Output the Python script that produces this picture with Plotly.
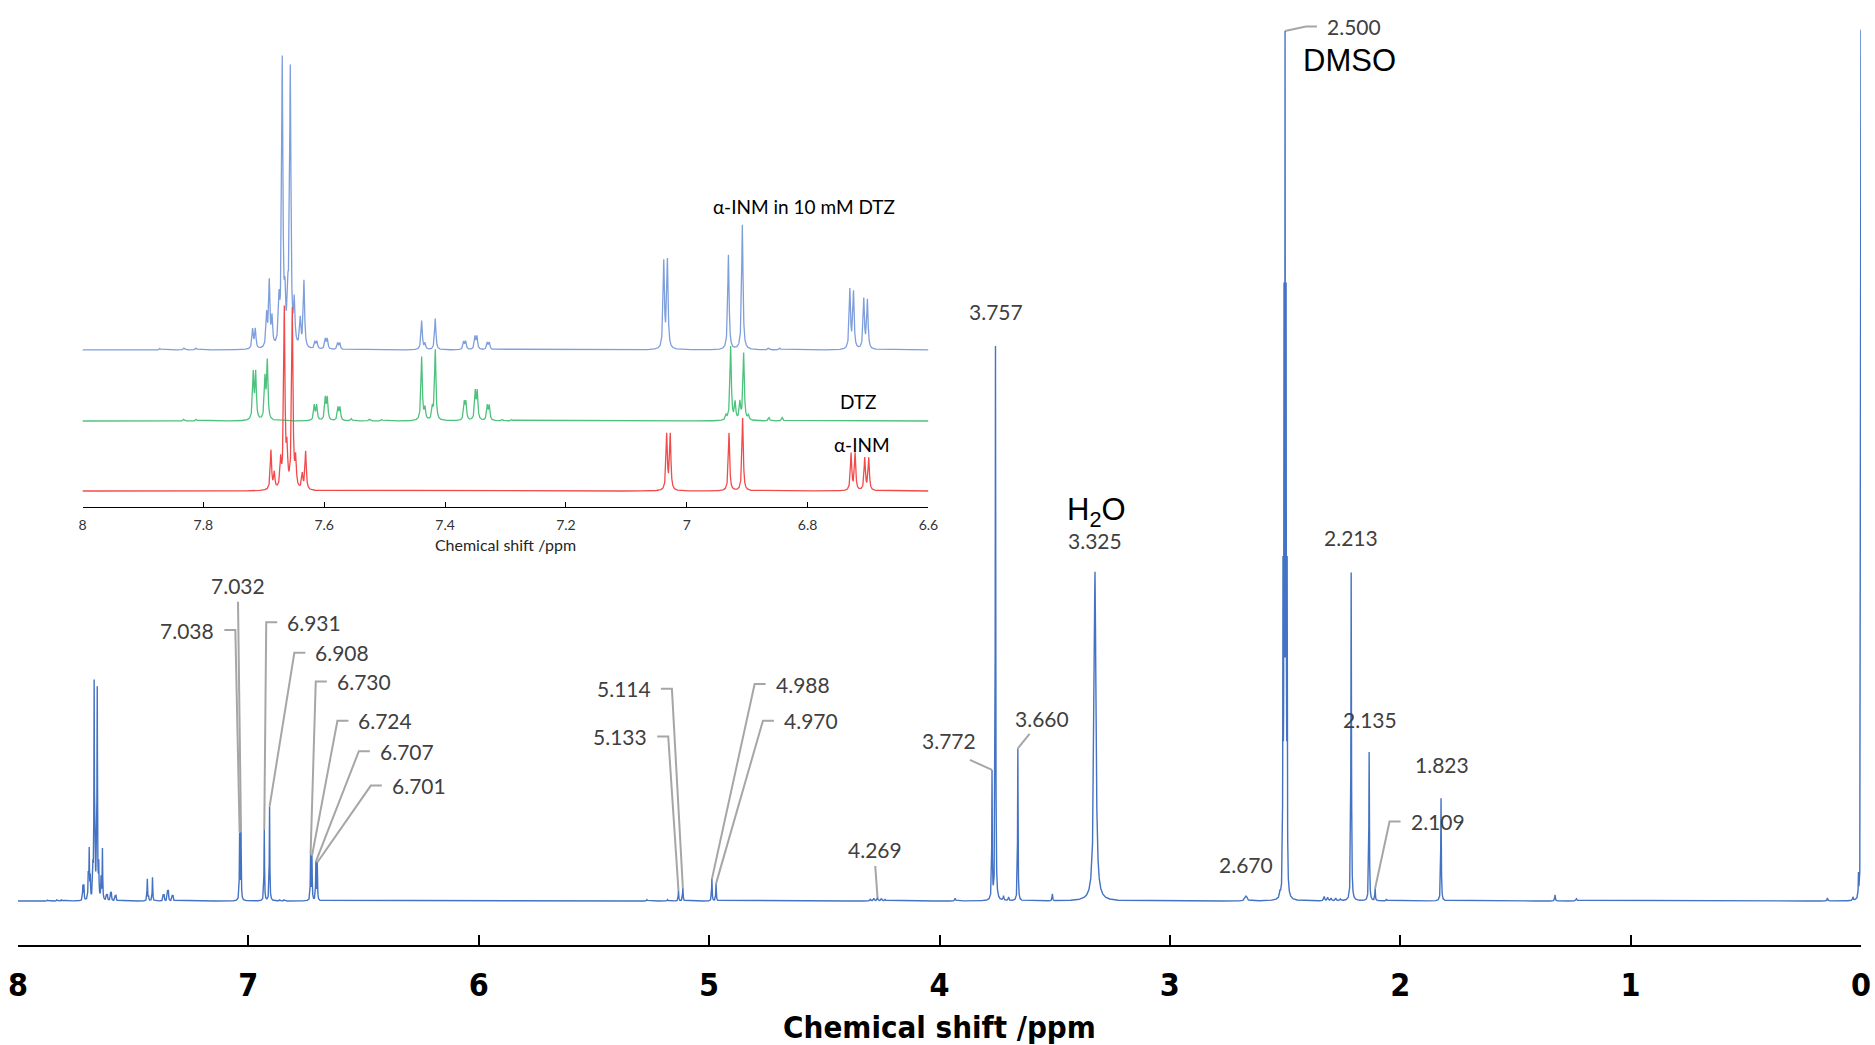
import numpy as np
import plotly.graph_objects as go

# ---------------------------------------------------------------------------
# 1H NMR peak tables (chemical shift in ppm, peak height relative to TMS = 1)
# ---------------------------------------------------------------------------

# alpha-INM in 10 mM DTZ - aromatic region (main spectrum and top inset trace)
mix_aro_ppm = [7.872, 7.832, 7.812,
               7.7184, 7.7140, 7.6952, 7.6909, 7.6864, 7.6748, 7.6694, 7.6650,
               7.6600, 7.6561, 7.6495, 7.6396, 7.6335,
               7.6153, 7.6120, 7.5982, 7.5949, 7.5777, 7.5744,
               7.4387, 7.4332, 7.4162, 7.3692, 7.3659, 7.3505, 7.3472, 7.3301, 7.3268,
               7.038, 7.032, 6.931, 6.908, 6.865, 6.846,
               6.730, 6.724, 6.707, 6.701]
mix_aro_h = [0.0012, 0.0015, 0.0015,
             0.017, 0.017, 0.028, 0.056, 0.024, 0.036, 0.246, 0.035,
             0.035, 0.238, 0.036, 0.024, 0.058,
             0.0062, 0.0062, 0.0088, 0.0088, 0.0055, 0.0055,
             0.025, 0.005, 0.027, 0.0068, 0.0068, 0.011, 0.011, 0.006, 0.006,
             0.075, 0.076, 0.082, 0.108, 0.0015, 0.0015,
             0.051, 0.049, 0.043, 0.042]

# alpha-INM in 10 mM DTZ - aliphatic region, solvent and reference
mix_ali_ppm = [5.270, 5.180, 5.133, 5.114, 4.988, 4.970,
               4.300, 4.285, 4.269, 4.252, 4.236, 3.932,
               3.772, 3.757, 3.722, 3.700, 3.660, 3.510, 3.325,
               2.675, 2.670, 2.665, 2.522, 2.509, 2.5045, 2.500, 2.4955, 2.491,
               2.330, 2.315, 2.300, 2.280, 2.260,
               2.213, 2.135, 2.109, 2.060, 1.823, 1.328, 1.235,
               0.146, 0.035, 0.011, 0.000]
mix_ali_h = [0.0015, 0.0015, 0.0115, 0.0152, 0.0250, 0.0198,
             0.0018, 0.0028, 0.0035, 0.0028, 0.0018, 0.0030,
             0.146, 0.636, 0.005, 0.004, 0.175, 0.008, 0.378,
             0.003, 0.004, 0.003, 0.006, 0.35, 0.64, 0.93, 0.64, 0.35,
             0.005, 0.004, 0.003, 0.003, 0.002,
             0.377, 0.171, 0.014, 0.002, 0.118, 0.007, 0.0025,
             0.0035, 0.004, 0.025, 1.0]
mix_ali_w = [0.004, 0.004, 0.0028, 0.0028, 0.0028, 0.0028,
             0.005, 0.005, 0.005, 0.005, 0.005, 0.004,
             0.0025, 0.0025, 0.004, 0.004, 0.0025, 0.003, 0.010,
             0.006, 0.006, 0.006, 0.004, 0.002, 0.002, 0.002, 0.002, 0.002,
             0.005, 0.005, 0.005, 0.005, 0.005,
             0.0028, 0.0028, 0.0028, 0.004, 0.0028, 0.003, 0.006,
             0.003, 0.003, 0.002, 0.002]

# DTZ alone - aromatic region
dtz_ppm = [7.8325, 7.8117, 7.7174, 7.7134, 7.6980, 7.6942,
           7.6164, 7.6125, 7.5982, 7.5949, 7.5772, 7.5739, 7.5550, 7.5250, 7.5050,
           7.4387, 7.4332, 7.4210, 7.4162, 7.3682, 7.3654, 7.3500, 7.3467,
           7.3301, 7.3268, 7.3050, 7.2900,
           6.935, 6.9273, 6.9200, 6.9120, 6.9058, 6.898, 6.864, 6.842]
dtz_h = [0.0015, 0.0015, 0.040, 0.040, 0.035, 0.050,
         0.013, 0.013, 0.019, 0.019, 0.011, 0.011, 0.002, 0.0015, 0.0012,
         0.055, 0.010, 0.010, 0.061, 0.015, 0.015, 0.024, 0.024,
         0.0125, 0.0125, 0.0015, 0.0012,
         0.004, 0.064, 0.015, 0.015, 0.058, 0.004, 0.003, 0.003]

# alpha-INM alone - aromatic region
inm_ppm = [7.6881, 7.6826, 7.6720, 7.6660, 7.6616, 7.6528, 7.6472, 7.6363, 7.6307,
           7.0332, 7.0273, 6.9300, 6.9075, 6.7280, 6.7214, 6.7054, 6.6988]
inm_h = [0.034, 0.014, 0.023, 0.155, 0.030, 0.155, 0.024, 0.013, 0.033,
         0.048, 0.048, 0.050, 0.063, 0.032, 0.032, 0.028, 0.028]

AROMATIC_FWHM = 0.0026

# Main-axis ticks and inset ticks
main_ticks = [8, 7, 6, 5, 4, 3, 2, 1, 0]
inset_ticks = [8.0, 7.8, 7.6, 7.4, 7.2, 7.0, 6.8, 6.6]
inset_ticktext = ["8", "7.8", "7.6", "7.4", "7.2", "7", "6.8", "6.6"]

# Assigned peaks: shift, connector style, label position (ppm, height), text anchor
peak_labels = [
    (7.038, "elbow", 7.139, 0.311, "right"),
    (7.032, "drop", 7.045, 0.362, "center"),
    (6.931, "elbow", 6.840, 0.320, "left"),
    (6.908, "elbow", 6.718, 0.285, "left"),
    (6.730, "elbow", 6.625, 0.252, "left"),
    (6.724, "elbow", 6.531, 0.207, "left"),
    (6.707, "elbow", 6.438, 0.172, "left"),
    (6.701, "elbow", 6.386, 0.1325, "left"),
    (5.133, "elbow", 5.260, 0.189, "right"),
    (5.114, "elbow", 5.244, 0.2436, "right"),
    (4.988, "elbow", 4.720, 0.249, "left"),
    (4.970, "elbow", 4.684, 0.207, "left"),
    (4.269, "drop", 4.279, 0.0586, "center"),
    (3.772, "slant", 3.957, 0.184, "center"),
    (3.757, "none", 3.755, 0.677, "center"),
    (3.660, "slant", 3.557, 0.209, "center"),
    (3.325, "none", 3.323, 0.414, "center"),
    (2.670, "none", 2.670, 0.042, "center"),
    (2.500, "elbow", 2.327, 1.004, "left"),
    (2.213, "none", 2.214, 0.417, "center"),
    (2.135, "none", 2.130, 0.208, "center"),
    (2.109, "elbow", 1.964, 0.0913, "left"),
    (1.823, "none", 1.819, 0.157, "center"),
]
# start points of the straight slanted leaders (ppm, height)
slant_start = {3.772: (3.868, 0.162), 3.660: (3.609, 0.192)}

# ---------------------------------------------------------------------------
# Geometry of the figure
# ---------------------------------------------------------------------------
W, H = 1875, 1045
ML, MR, MT, MB = 18, 14, 0, 100
PLOT_W = W - ML - MR
PLOT_H = H - MT - MB
PX_PER_PPM = PLOT_W / 8.0
Y_RANGE = [-0.0505, 1.0344]

INSET_X_DOMAIN = [0.035, 0.494]
INSET_Y_DOMAIN = [0.4635, 0.9577]
INSET_Y_RANGE = [-0.0138, 0.3898]
OFFSET_GREEN = 0.0605
OFFSET_BLUE = 0.1219

MAIN_BLUE = "#4472C4"
INSET_BLUE = "#7E9EDC"
INSET_GREEN = "#4DC27D"
INSET_RED = "#F24A4A"
LEADER = "#A6A6A6"
LABEL_GREY = "#404040"


def lorentz(x, centers, heights, widths):
    c = np.asarray(centers, float)[None, :]
    h = np.asarray(heights, float)[None, :]
    hw = np.asarray(widths, float)[None, :] / 2.0
    xx = np.asarray(x, float)[:, None]
    return (h / (1.0 + ((xx - c) / hw) ** 2)).sum(axis=1)


mix_ppm = mix_aro_ppm + mix_ali_ppm
mix_h = mix_aro_h + mix_ali_h
mix_w = [AROMATIC_FWHM] * len(mix_aro_ppm) + mix_ali_w


def mix_spectrum(x):
    return lorentz(x, mix_ppm, mix_h, mix_w)


# Main spectrum
x_main = np.union1d(np.linspace(0, 8, 20001), [p for p in mix_ppm if 0 <= p <= 8])
y_main = mix_spectrum(x_main)

# Inset spectra
all_inset = [p for p in mix_aro_ppm + dtz_ppm + inm_ppm if 6.6 <= p <= 8]
x_in = np.union1d(np.linspace(6.6, 8, 7001), all_inset)
y_blue = mix_spectrum(x_in) + OFFSET_BLUE
y_green = lorentz(x_in, dtz_ppm, dtz_h, [AROMATIC_FWHM] * len(dtz_ppm)) + OFFSET_GREEN
y_red = lorentz(x_in, inm_ppm, inm_h, [AROMATIC_FWHM] * len(inm_ppm))

fig = go.Figure()

# leader lines for the peak labels
gap = 8 / PX_PER_PPM
arm = 11 / PX_PER_PPM
lx, ly = [], []
for ppm, style, tx, ty, anchor in peak_labels:
    top = float(mix_spectrum([ppm])[0])
    if style == "elbow":
        sign = 1 if anchor == "left" else -1
        lx += [tx + sign * gap, tx + sign * (gap + arm), ppm, None]
        ly += [ty, ty, top, None]
    elif style == "drop":
        lx += [tx, ppm, None]
        ly += [ty - 16 / (PLOT_H / (Y_RANGE[1] - Y_RANGE[0])), top, None]
    elif style == "slant":
        sx, sy = slant_start[ppm]
        lx += [sx, ppm, None]
        ly += [sy, top, None]

fig.add_trace(go.Scatter(x=lx, y=ly, mode="lines", line=dict(color=LEADER, width=2),
                         hoverinfo="skip", showlegend=False, xaxis="x", yaxis="y"))

fig.add_trace(go.Scatter(x=x_main, y=y_main, mode="lines",
                         line=dict(color=MAIN_BLUE, width=1.4),
                         name="α-INM in 10 mM DTZ", showlegend=False,
                         xaxis="x", yaxis="y"))

for yy, col, nm in [(y_blue, INSET_BLUE, "α-INM in 10 mM DTZ"),
                    (y_green, INSET_GREEN, "DTZ"),
                    (y_red, INSET_RED, "α-INM")]:
    fig.add_trace(go.Scatter(x=x_in, y=yy, mode="lines", line=dict(color=col, width=1.3),
                             name=nm, showlegend=False, xaxis="x2", yaxis="y2"))

annotations = []
label_font = dict(family="Lato, 'Open Sans', sans-serif", size=21, color=LABEL_GREY)
for ppm, style, tx, ty, anchor in peak_labels:
    annotations.append(dict(x=tx, y=ty, xref="x", yref="y", text=f"{ppm:.3f}",
                            showarrow=False, xanchor=anchor, yanchor="middle",
                            font=label_font))

solvent_font = dict(family="'Liberation Sans', Arial, sans-serif", size=31, color="black")
annotations.append(dict(x=3.318, y=0.447, xref="x", yref="y", text="H<sub>2</sub>O",
                        showarrow=False, xanchor="center", yanchor="middle", font=solvent_font))
annotations.append(dict(x=2.430, y=0.9655, xref="x", yref="y", text="DMSO",
                        showarrow=False, xanchor="left", yanchor="middle", font=solvent_font))

inset_label_font = dict(family="Lato, 'Open Sans', sans-serif", size=19, color="black")
for txt, xx, yy in [("α-INM in 10 mM DTZ", 6.8067, 0.2455),
                    ("DTZ", 6.7162, 0.0772),
                    ("α-INM", 6.7106, 0.0398)]:
    annotations.append(dict(x=xx, y=yy, xref="x2", yref="y2", text=txt, showarrow=False,
                            xanchor="center", yanchor="middle", font=inset_label_font))

bold_narrow = "'Liberation Sans Narrow', 'Arial Narrow', 'DejaVu Sans Condensed', 'Liberation Sans', sans-serif"

fig.update_layout(
    width=W, height=H,
    margin=dict(l=ML, r=MR, t=MT, b=MB, pad=0),
    paper_bgcolor="white", plot_bgcolor="white",
    showlegend=False,
    annotations=annotations,
    xaxis=dict(domain=[0, 1], range=[8, 0], anchor="y",
               tickmode="array", tickvals=main_ticks, ticktext=[str(t) for t in main_ticks],
               ticks="inside", ticklen=10, tickwidth=2, tickcolor="black",
               showline=True, linecolor="black", linewidth=2, mirror=False,
               showgrid=False, zeroline=False, ticklabelstandoff=11,
               tickfont=dict(family=bold_narrow, size=32, color="black", weight="bold"),
               title=dict(text="Chemical shift /ppm", standoff=15,
                          font=dict(family=bold_narrow, size=31, color="black", weight="bold"))),
    yaxis=dict(domain=[0, 1], range=Y_RANGE, visible=False, anchor="x"),
    xaxis2=dict(domain=INSET_X_DOMAIN, range=[8, 6.6], anchor="y2",
                tickmode="array", tickvals=inset_ticks, ticktext=inset_ticktext,
                ticks="inside", ticklen=5, tickwidth=1.3, tickcolor="black",
                showline=True, linecolor="black", linewidth=1.3,
                showgrid=False, zeroline=False, ticklabelstandoff=5,
                tickfont=dict(family="Lato, 'Open Sans', sans-serif", size=14, color="#333333"),
                title=dict(text="Chemical shift /ppm", standoff=7,
                           font=dict(family="Lato, 'Open Sans', sans-serif", size=16,
                                     color="#262626"))),
    yaxis2=dict(domain=INSET_Y_DOMAIN, range=INSET_Y_RANGE, visible=False, anchor="x2"),
)

fig.write_html("out.html")
